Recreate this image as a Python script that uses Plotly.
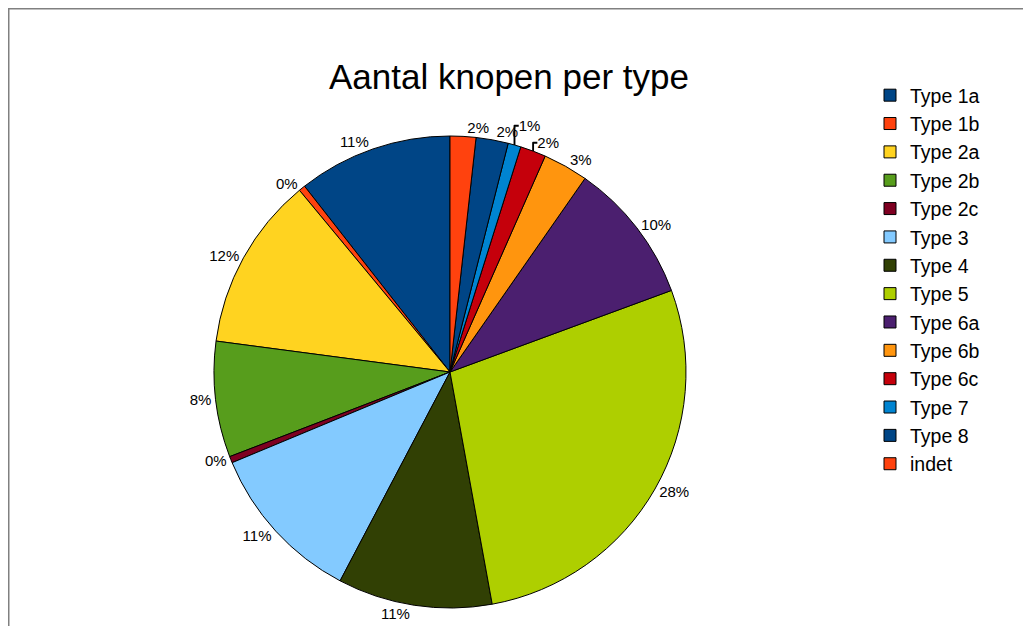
import plotly.graph_objects as go

labels = ["Type 1a", "Type 1b", "Type 2a", "Type 2b", "Type 2c", "Type 3", "Type 4",
          "Type 5", "Type 6a", "Type 6b", "Type 6c", "Type 7", "Type 8", "indet"]
counts = [24, 1, 27, 18, 1, 25, 24, 63, 22, 7, 4, 2, 5, 4]
colors = ["#004586", "#ff420e", "#ffd320", "#579d1c", "#7e0021", "#83caff", "#314004",
          "#aecf00", "#4b1f6f", "#ff950e", "#c5000b", "#0084d1", "#004586", "#ff420e"]

# narrow slices near the top whose labels are laid out on their own layer,
# so Plotly does not stack all of them vertically on top of each other
own_layer = ["Type 8", "indet"]

W, H = 1031, 626
OFF = 8  # page body margin
cx, cy, r = 450 - OFF, 372 - OFF, 236

# first slice should start at 12 o'clock and run counterclockwise
start_rot = -360.0 * counts[0] / sum(counts)

FONT = "Liberation Sans, Arial, sans-serif"
dom = dict(x=[(cx - r) / W, (cx + r) / W], y=[(H - cy - r) / H, (H - cy + r) / H])
tfont = dict(family=FONT, size=15, color="#000000")

fig = go.Figure()
fig.add_trace(go.Pie(
    labels=labels,
    values=counts,
    sort=False,
    direction="counterclockwise",
    rotation=start_rot,
    marker=dict(colors=colors, line=dict(color="#000000", width=1)),
    textposition=["none" if l in own_layer else "outside" for l in labels],
    texttemplate="%{percent:.0%}",
    textfont=tfont,
    domain=dom,
    hoverinfo="label+percent",
))

for name in own_layer:
    fig.add_trace(go.Pie(
        labels=labels,
        values=counts,
        sort=False,
        direction="counterclockwise",
        rotation=start_rot,
        marker=dict(colors=["rgba(0,0,0,0)"] * len(labels), line=dict(width=0)),
        textposition=["outside" if l == name else "none" for l in labels],
        texttemplate="%{percent:.0%}",
        textfont=tfont,
        domain=dom,
        hoverinfo="skip",
        showlegend=False,
    ))

fig.update_layout(
    width=W, height=H,
    margin=dict(l=0, r=0, t=0, b=0),
    paper_bgcolor="#ffffff",
    plot_bgcolor="#ffffff",
    font=dict(family=FONT, color="#000000"),
    title=dict(text="Aantal knopen per type", x=501 / W, xanchor="center",
               y=1 - 69 / H, yanchor="middle",
               font=dict(size=35, color="#000000", family=FONT)),
    legend=dict(x=862 / W, xanchor="left", y=1 - 68 / H, yanchor="top",
                font=dict(size=19.5, color="#000000", family=FONT),
                bgcolor="rgba(0,0,0,0)", traceorder="normal"),
    shapes=[dict(type="rect", xref="paper", yref="paper",
                 x0=0.75 / W, x1=1.1, y0=-0.1, y1=1 - 0.75 / H,
                 line=dict(color="#808080", width=1.5), fillcolor="rgba(0,0,0,0)")],
)

fig.write_html("out.html")
